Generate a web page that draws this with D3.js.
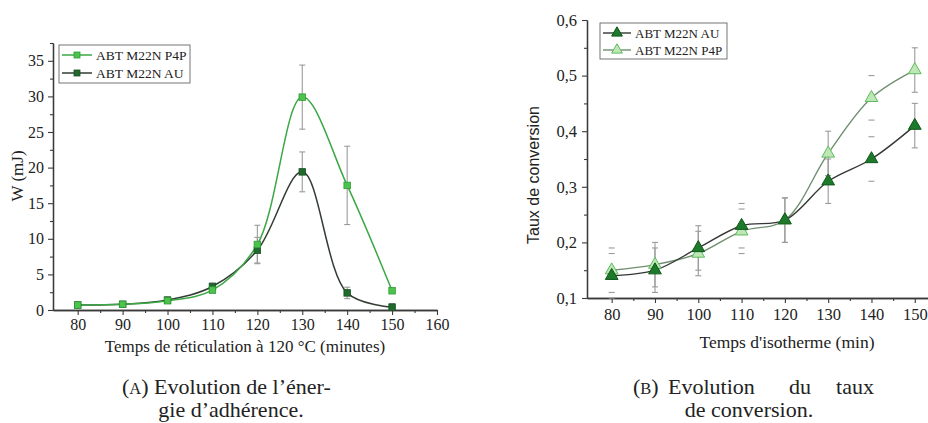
<!DOCTYPE html>
<html><head><meta charset="utf-8">
<script src="https://cdn.jsdelivr.net/npm/d3@7"></script>
<style>
html,body{margin:0;padding:0;background:#fff;}
svg{display:block;}
</style></head>
<body>
<svg id="c" width="928" height="423" font-family="Liberation Serif, Times New Roman, serif"></svg>
<script>
// ---------- Data: chart A (adhesion energy) ----------
const timesA = [80, 90, 100, 110, 120, 130, 140, 150];
const wP4P = [0.7, 0.8, 1.3, 2.8, 9.2, 29.9, 17.5, 2.7];
const wP4PErr = [0.2, 0.2, 0.2, 0.4, 2.7, 4.5, 5.5, 0.3];
const wAU = [0.7, 0.8, 1.4, 3.3, 8.4, 19.4, 2.4, 0.4];
const wAUErr = [0.2, 0.2, 0.2, 0.5, 1.8, 2.8, 0.8, 0.5];
const yTicksA = [0, 5, 10, 15, 20, 25, 30, 35];
const xTicksA = [80, 90, 100, 110, 120, 130, 140, 150, 160];

// ---------- Data: chart B (conversion rate) ----------
const timesB = [80, 90, 100, 110, 120, 130, 140, 150];
const tAU = [0.14, 0.15, 0.19, 0.23, 0.24, 0.31, 0.35, 0.41];
const tAUErr = [0.04, 0.04, 0.04, 0.04, 0.04, 0.04, 0.04, 0.04];
const tP4P = [0.15, 0.16, 0.18, 0.22, 0.24, 0.36, 0.46, 0.51];
const tP4PErr = [0.04, 0.04, 0.04, 0.04, 0.04, 0.04, 0.04, 0.04];
const capsOnlyB = [80, 110, 140];
const yTicksB = [0.1, 0.2, 0.3, 0.4, 0.5, 0.6];
const xTicksB = [80, 90, 100, 110, 120, 130, 140, 150];

const SERIF = "Liberation Serif, Times New Roman, serif";
const SANS = "Liberation Sans, Arial, sans-serif";
const svg = d3.select("#c");
const axisColor = "#3a3a3a";
const errColor = "#9a9a9a";

function styleAxis(g){
  g.attr("font-family", SERIF);
  g.selectAll(".domain").attr("stroke", axisColor).attr("stroke-width", 1.3);
  g.selectAll(".tick line").attr("stroke", axisColor).attr("stroke-width", 1.1);
  g.selectAll(".tick text").attr("font-family", SERIF).attr("fill", "#222");
}

function errBars(g, xs, ys, es, x, y, cap, capsOnly){
  xs.forEach((t, i) => {
    const cx = x(t), y1 = y(ys[i] + es[i]), y0 = y(Math.max(ys[i] - es[i], y.domain()[0]));
    if (!capsOnly || !capsOnly.includes(t)) {
      g.append("line").attr("x1", cx).attr("x2", cx).attr("y1", y1).attr("y2", y0)
        .attr("stroke", errColor).attr("stroke-width", 1.1);
    }
    g.append("line").attr("x1", cx - cap).attr("x2", cx + cap).attr("y1", y1).attr("y2", y1)
      .attr("stroke", errColor).attr("stroke-width", 1.1);
    g.append("line").attr("x1", cx - cap).attr("x2", cx + cap).attr("y1", y0).attr("y2", y0)
      .attr("stroke", errColor).attr("stroke-width", 1.1);
  });
}

// ================= Chart A =================
const xA = d3.scaleLinear().domain([74.5, 160]).range([53, 437]);
const yA = d3.scaleLinear().domain([0, 37.5]).range([310, 43]);
const gA = svg.append("g");

gA.append("g").attr("transform", "translate(0,310)")
  .call(d3.axisBottom(xA).tickValues(d3.range(85, 160, 10)).tickSize(3).tickFormat("").tickSizeOuter(0))
  .call(styleAxis);
gA.append("g").attr("transform", "translate(53,0)")
  .call(d3.axisLeft(yA).tickValues(d3.range(2.5, 37.6, 5)).tickSize(3).tickFormat("").tickSizeOuter(0))
  .call(styleAxis);
gA.append("g").attr("transform", "translate(0,310)")
  .call(d3.axisBottom(xA).tickValues(xTicksA).tickSize(5).tickPadding(4).tickSizeOuter(0))
  .call(styleAxis)
  .call(g => g.selectAll(".tick text").attr("font-size", 16));
gA.append("g").attr("transform", "translate(53,0)")
  .call(d3.axisLeft(yA).tickValues(yTicksA).tickSize(5).tickPadding(4).tickSizeOuter(0))
  .call(styleAxis)
  .call(g => g.selectAll(".tick text").attr("font-size", 16));

gA.append("text").attr("x", 245).attr("y", 352).attr("text-anchor", "middle")
  .attr("font-size", 17).attr("fill", "#222").text("Temps de réticulation à 120 °C (minutes)");
gA.append("text").attr("transform", "translate(23,176) rotate(-90)").attr("text-anchor", "middle")
  .attr("font-size", 17).attr("fill", "#222").text("W (mJ)");

errBars(gA, timesA, wP4P, wP4PErr, xA, yA, 3);
errBars(gA, timesA, wAU, wAUErr, xA, yA, 3);

const lineA = d3.line().curve(d3.curveCatmullRom.alpha(0.5));
const ptsAU = timesA.map((t, i) => [xA(t), yA(wAU[i])]);
const ptsP4P = timesA.map((t, i) => [xA(t), yA(wP4P[i])]);
gA.append("path").attr("d", lineA(ptsAU)).attr("fill", "none").attr("stroke", "#333d33").attr("stroke-width", 1.5);
gA.append("path").attr("d", lineA(ptsP4P)).attr("fill", "none").attr("stroke", "#3aa845").attr("stroke-width", 1.5);

const sq = 6.5;
gA.selectAll(".mAU").data(ptsAU).join("rect")
  .attr("x", d => d[0] - sq/2).attr("y", d => d[1] - sq/2).attr("width", sq).attr("height", sq)
  .attr("fill", "#1f6a2c").attr("stroke", "#194f22").attr("stroke-width", 0.8);
gA.selectAll(".mP").data(ptsP4P).join("rect")
  .attr("x", d => d[0] - sq/2).attr("y", d => d[1] - sq/2).attr("width", sq).attr("height", sq)
  .attr("fill", "#4cc44c").attr("stroke", "#2f9a38").attr("stroke-width", 0.8);

// legend A
const legA = gA.append("g");
legA.append("rect").attr("x", 59).attr("y", 45).attr("width", 131).attr("height", 38)
  .attr("fill", "#fff").attr("stroke", "#666").attr("stroke-width", 0.9);
[["ABT M22N P4P", "#3aa845", "#4cc44c", "#2f9a38", 55], ["ABT M22N AU", "#333d33", "#1f6a2c", "#194f22", 73]]
  .forEach(([lab, lc, fc, sc, yy]) => {
    legA.append("line").attr("x1", 62).attr("x2", 92).attr("y1", yy).attr("y2", yy).attr("stroke", lc).attr("stroke-width", 1.5);
    legA.append("rect").attr("x", 77 - 3).attr("y", yy - 3).attr("width", 6).attr("height", 6).attr("fill", fc).attr("stroke", sc).attr("stroke-width", 0.8);
    legA.append("text").attr("x", 96).attr("y", yy + 4.5).attr("font-size", 13.5).attr("fill", "#222").text(lab);
  });

// caption A
const capA = gA.append("g").attr("font-size", 22).attr("fill", "#222");
capA.append("text").attr("x", 122).attr("y", 394)
  .html('(<tspan font-size="16.5">A</tspan>) Evolution de l’éner-');
capA.append("text").attr("x", 231).attr("y", 417).attr("text-anchor", "middle").text("gie d’adhérence.");

// ================= Chart B =================
const xB = d3.scaleLinear().domain([74.3, 160]).range([587, 587 + 85.7 * 4.33]);
const yB = d3.scaleLinear().domain([0.1, 0.6]).range([298, 20]);
const gB = svg.append("g");

gB.append("g").attr("transform", "translate(0,298)")
  .call(d3.axisBottom(xB).tickValues(d3.range(85, 160, 10)).tickSize(3).tickFormat("").tickSizeOuter(0))
  .call(styleAxis);
gB.append("g").attr("transform", "translate(587,0)")
  .call(d3.axisLeft(yB).tickValues(d3.range(0.15, 0.6, 0.1)).tickSize(3).tickFormat("").tickSizeOuter(0))
  .call(styleAxis);
gB.append("g").attr("transform", "translate(0,298)")
  .call(d3.axisBottom(xB).tickValues(xTicksB).tickSize(5).tickPadding(5).tickSizeOuter(0))
  .call(styleAxis)
  .call(g => g.selectAll(".tick text").attr("font-size", 16.5));
gB.append("g").attr("transform", "translate(587,0)")
  .call(d3.axisLeft(yB).tickValues(yTicksB).tickSize(5).tickPadding(5).tickSizeOuter(0)
    .tickFormat(d => d3.format(".1f")(d).replace(".", ",")))
  .call(styleAxis)
  .call(g => g.selectAll(".tick text").attr("font-size", 16.5));

gB.append("text").attr("x", 787).attr("y", 348).attr("text-anchor", "middle")
  .attr("font-size", 17.5).attr("fill", "#222").text("Temps d'isotherme (min)");
gB.append("text").attr("transform", "translate(539,175) rotate(-90)").attr("text-anchor", "middle")
  .attr("font-family", SANS).attr("fill", "#222")
  .attr("font-size", 16).text("Taux de conversion");

errBars(gB, timesB, tP4P, tP4PErr, xB, yB, 3, capsOnlyB);
errBars(gB, timesB, tAU, tAUErr, xB, yB, 3, capsOnlyB);

const lineB = d3.line().curve(d3.curveCatmullRom.alpha(0.5));
const ptsBAU = timesB.map((t, i) => [xB(t), yB(tAU[i])]);
const ptsBP = timesB.map((t, i) => [xB(t), yB(tP4P[i])]);
gB.append("path").attr("d", lineB(ptsBP)).attr("fill", "none").attr("stroke", "#6f8f70").attr("stroke-width", 1.4);
gB.append("path").attr("d", lineB(ptsBAU)).attr("fill", "none").attr("stroke", "#333833").attr("stroke-width", 1.4);

const tri = d3.symbol().type(d3.symbolTriangle).size(70);
gB.selectAll(".tP").data(ptsBP).join("path")
  .attr("transform", d => `translate(${d[0]},${d[1]})`).attr("d", tri)
  .attr("fill", "#bde8b5").attr("stroke", "#5fba5f").attr("stroke-width", 1);
gB.selectAll(".tA").data(ptsBAU).join("path")
  .attr("transform", d => `translate(${d[0]},${d[1]})`).attr("d", tri)
  .attr("fill", "#1c7a2a").attr("stroke", "#11561c").attr("stroke-width", 1);

// legend B
const legB = gB.append("g");
legB.append("rect").attr("x", 600).attr("y", 23).attr("width", 127).attr("height", 36)
  .attr("fill", "#fff").attr("stroke", "#666").attr("stroke-width", 0.9);
[["ABT M22N AU", "#333833", "#1c7a2a", "#11561c", 33], ["ABT M22N P4P", "#6f8f70", "#bde8b5", "#5fba5f", 50]]
  .forEach(([lab, lc, fc, sc, yy]) => {
    legB.append("line").attr("x1", 603).attr("x2", 631).attr("y1", yy).attr("y2", yy).attr("stroke", lc).attr("stroke-width", 1.4);
    legB.append("path").attr("transform", `translate(617,${yy})`).attr("d", d3.symbol().type(d3.symbolTriangle).size(50))
      .attr("fill", fc).attr("stroke", sc).attr("stroke-width", 1);
    legB.append("text").attr("x", 635).attr("y", yy + 4.5).attr("font-size", 13).attr("fill", "#222").text(lab);
  });

// caption B
const capB = gB.append("g").attr("font-size", 22).attr("fill", "#222");
capB.append("text").attr("x", 633).attr("y", 394).html('(<tspan font-size="16.5">B</tspan>)');
capB.append("text").attr("x", 668).attr("y", 394).text("Evolution");
capB.append("text").attr("x", 789).attr("y", 394).text("du");
capB.append("text").attr("x", 874).attr("y", 394).attr("text-anchor", "end").text("taux");
capB.append("text").attr("x", 749).attr("y", 417).attr("text-anchor", "middle").text("de conversion.");
</script>
</body></html>
